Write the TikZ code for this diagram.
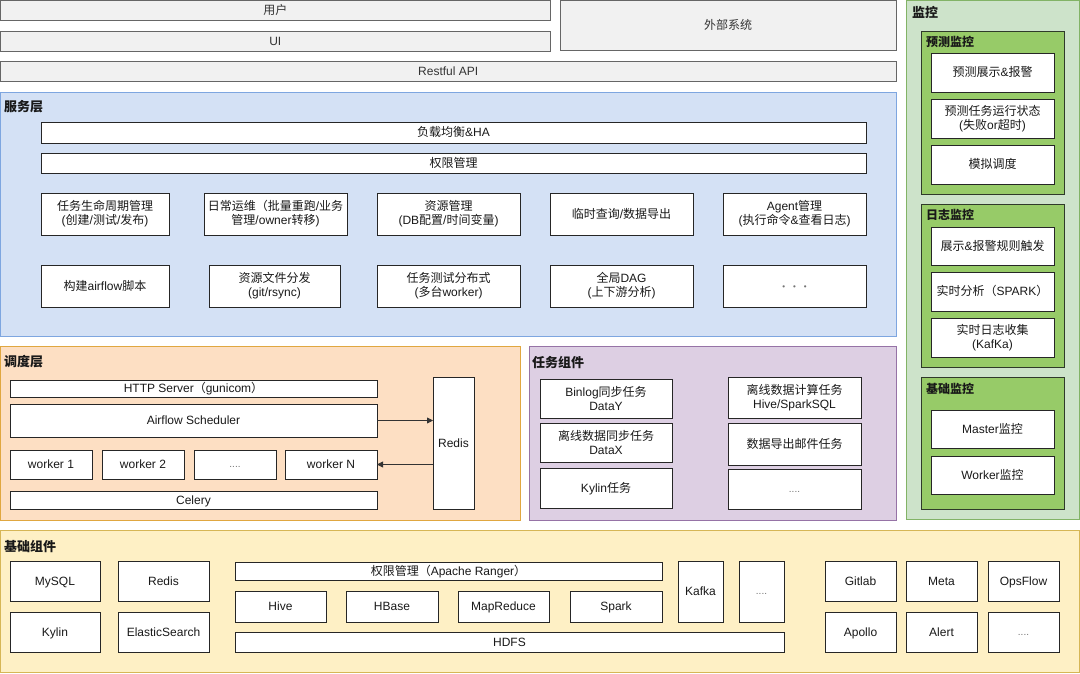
\documentclass[tikz,border=0pt]{standalone}
\usepackage{fontspec}
\setmainfont{Liberation Sans}
\newfontfamily\latfont{Liberation Sans}
\newfontfamily\cjkfont{Noto Sans CJK SC}
\usetikzlibrary{arrows.meta}
\XeTeXinterchartokenstate=1
\newXeTeXintercharclass\cjkcls
\newcount\mycnt
\mycnt="3000 \loop \XeTeXcharclass\mycnt=\cjkcls \advance\mycnt by 1 \ifnum\mycnt<"A000 \repeat
\mycnt="FF00 \loop \XeTeXcharclass\mycnt=\cjkcls \advance\mycnt by 1 \ifnum\mycnt<"FFF0 \repeat
\XeTeXinterchartoks 0 \cjkcls = {\cjkfont}
\XeTeXinterchartoks 4095 \cjkcls = {\cjkfont}
\XeTeXinterchartoks \cjkcls 0 = {\latfont}
\XeTeXinterchartoks 4095 0 = {\latfont}

\definecolor{gstroke}{HTML}{666666}
\definecolor{gfill}{HTML}{F1F1F1}
\definecolor{gtext}{HTML}{333333}
\definecolor{bluefill}{HTML}{D4E1F5}
\definecolor{bluestroke}{HTML}{7EA6E0}
\definecolor{orfill}{HTML}{FDDFC3}
\definecolor{orstroke}{HTML}{E0A740}
\definecolor{pufill}{HTML}{DDCFE3}
\definecolor{pustroke}{HTML}{9673A6}
\definecolor{yefill}{HTML}{FEF0C5}
\definecolor{yestroke}{HTML}{D6B656}
\definecolor{lgfill}{HTML}{CDE3CA}
\definecolor{lgstroke}{HTML}{82B366}
\definecolor{dgfill}{HTML}{97CB68}
\definecolor{dgstroke}{HTML}{2F3A2A}

\newcommand\bx[7]{\node[#6,minimum width={(#4)-(#2)},minimum height={(#5)-(#3)}] (#1) at ({((#2)+(#4))/2},{((#3)+(#5))/2}) {#7};}

\tikzset{
  base/.style={rectangle, inner sep=1pt, outer sep=0pt, line width=0.8pt, align=center,
    font=\fontsize{12}{14}\selectfont},
  one/.style={text height=10.3pt, text depth=1.5pt},
  gbox/.style={base, one, draw=gstroke, fill=gfill, text=gtext},
  wbox/.style={base, draw=black!85, fill=white, text=black!90},
  wb/.style={wbox, one},
  dots/.style={wbox, text=black!55, font=\fontsize{10}{12}\selectfont, text height=6pt, text depth=0pt},
  bluepanel/.style={base, draw=bluestroke, fill=bluefill},
  orpanel/.style={base, draw=orstroke, fill=orfill},
  pupanel/.style={base, draw=pustroke, fill=pufill},
  yepanel/.style={base, draw=yestroke, fill=yefill},
  lgpanel/.style={base, draw=lgstroke, fill=lgfill},
  dgpanel/.style={base, draw=dgstroke, fill=dgfill},
  ttl/.style={anchor=west, inner sep=0pt, text=black!90, font=\bfseries\fontsize{13}{15}\selectfont},
  sttl/.style={anchor=west, inner sep=0pt, text=black!90, font=\bfseries\fontsize{12}{14}\selectfont},
  arr/.style={-{Triangle[length=6pt,width=6pt]}, line width=0.8pt, draw=black!80},
}

\begin{document}
\begin{tikzpicture}[x=1pt,y=-1pt]
\useasboundingbox (0,0) rectangle (1080,673);

% top
\bx{user}{0.5}{0.5}{550}{20.5}{gbox}{用户}
\bx{ui}{0.5}{31}{550}{51}{gbox}{UI}
\bx{ext}{560}{0.5}{896}{50.5}{gbox}{外部系统}
\bx{api}{0.5}{61}{896}{81}{gbox}{Restful API}

% service layer
\bx{svc}{0.5}{92}{896}{336}{bluepanel}{}
\node[ttl] (svct) at (4,107) {服务层};
\bx{lb}{41}{122}{866}{143}{wb}{负载均衡\&HA}
\bx{perm}{41}{153}{866}{173}{wb}{权限管理}
\bx{s11}{41}{193}{169}{235}{wbox}{任务生命周期管理\\(创建/测试/发布)}
\bx{s12}{204}{193}{347}{235}{wbox}{日常运维（批量重跑/业务\\管理/owner转移)}
\bx{s13}{377}{193}{520}{235}{wbox}{资源管理\\(DB配置/时间变量)}
\bx{s14}{550}{193}{693}{235}{wb}{临时查询/数据导出}
\bx{s15}{723}{193}{866}{235}{wbox}{Agent管理\\(执行命令\&查看日志)}
\bx{s21}{41}{265}{169}{307}{wb}{构建airflow脚本}
\bx{s22}{209}{265}{340}{307}{wbox}{资源文件分发\\(git/rsync)}
\bx{s23}{377}{265}{520}{307}{wbox}{任务测试分布式\\(多台worker)}
\bx{s24}{550}{265}{693}{307}{wbox}{全局DAG\\(上下游分析)}
\bx{s25}{723}{265}{866}{307}{dots}{{\fontsize{8}{10}\selectfont •\hspace{8pt}•\hspace{8pt}•}}

% scheduling layer
\bx{sch}{0.5}{346}{520}{520}{orpanel}{}
\node[ttl] (scht) at (4,362) {调度层};
\bx{http}{10}{380}{377}{397}{wb}{HTTP Server（gunicom）}
\bx{sched}{10}{404}{377}{437}{wb}{Airflow Scheduler}
\bx{w1}{10}{450}{92}{479}{wb}{worker 1}
\bx{w2}{102}{450}{184}{479}{wb}{worker 2}
\bx{wd}{194}{450}{276}{479}{dots}{....}
\bx{wn}{285}{450}{377}{479}{wb}{worker N}
\bx{celery}{10}{491}{377}{509}{wb}{Celery}
\bx{redis}{433}{377}{474}{509}{wb}{Redis}
\draw[arr] (sched.east) -- (sched.east -| redis.west);
\draw[arr] (redis.west |- wn.east) -- (wn.east);

% task components
\bx{tc}{529}{346}{896}{520}{pupanel}{}
\node[ttl] (tct) at (532,363) {任务组件};
\bx{t11}{540}{379}{672}{418}{wbox}{Binlog同步任务\\DataY}
\bx{t12}{540}{423}{672}{462}{wbox}{离线数据同步任务\\DataX}
\bx{t13}{540}{468}{672}{508}{wb}{Kylin任务}
\bx{t21}{728}{377}{861}{418}{wbox}{离线数据计算任务\\Hive/SparkSQL}
\bx{t22}{728}{423}{861}{465}{wb}{数据导出邮件任务}
\bx{t23}{728}{469}{861}{509}{dots}{....}

% monitoring
\bx{mon}{906}{0.5}{1079.5}{519}{lgpanel}{}
\node[ttl] (mont) at (912,12) {监控};
\bx{g1}{921}{31}{1064}{194}{dgpanel}{}
\node[sttl] (g1t) at (926,42) {预测监控};
\bx{m11}{931}{53}{1054}{92}{wb}{预测展示\&报警}
\bx{m12}{931}{99}{1054}{138}{wbox}{预测任务运行状态\\(失败or超时)}
\bx{m13}{931}{145}{1054}{184}{wb}{模拟调度}
\bx{g2}{921}{204}{1064}{367}{dgpanel}{}
\node[sttl] (g2t) at (926,215) {日志监控};
\bx{m21}{931}{227}{1054}{265}{wb}{展示\&报警规则触发}
\bx{m22}{931}{272}{1054}{311}{wb}{实时分析（SPARK）}
\bx{m23}{931}{318}{1054}{357}{wbox}{实时日志收集\\(KafKa)}
\bx{g3}{921}{377}{1064}{509}{dgpanel}{}
\node[sttl] (g3t) at (926,389) {基础监控};
\bx{m31}{931}{410}{1054}{448}{wb}{Master监控}
\bx{m32}{931}{456}{1054}{494}{wb}{Worker监控}

% base components
\bx{bc}{0.5}{530}{1079.5}{672}{yepanel}{}
\node[ttl] (bct) at (4,547) {基础组件};
\bx{mysql}{10}{561}{100}{601}{wb}{MySQL}
\bx{redisb}{118}{561}{209}{601}{wb}{Redis}
\bx{kylin}{10}{612}{100}{652}{wb}{Kylin}
\bx{es}{118}{612}{209}{652}{wb}{ElasticSearch}
\bx{ranger}{235}{562}{662}{580}{wb}{权限管理（Apache Ranger）}
\bx{hive}{235}{591}{326}{622}{wb}{Hive}
\bx{hbase}{346}{591}{438}{622}{wb}{HBase}
\bx{mr}{458}{591}{549}{622}{wb}{MapReduce}
\bx{spark}{570}{591}{662}{622}{wb}{Spark}
\bx{hdfs}{235}{632}{784}{652}{wb}{HDFS}
\bx{kafka}{678}{561}{723}{622}{wb}{Kafka}
\bx{bdots}{739}{561}{784}{622}{dots}{....}
\bx{gitlab}{825}{561}{896}{601}{wb}{Gitlab}
\bx{meta}{906}{561}{977}{601}{wb}{Meta}
\bx{ops}{988}{561}{1059}{601}{wb}{OpsFlow}
\bx{apollo}{825}{612}{896}{652}{wb}{Apollo}
\bx{alert}{906}{612}{977}{652}{wb}{Alert}
\bx{odots}{988}{612}{1059}{652}{dots}{....}
\end{tikzpicture}
\end{document}
